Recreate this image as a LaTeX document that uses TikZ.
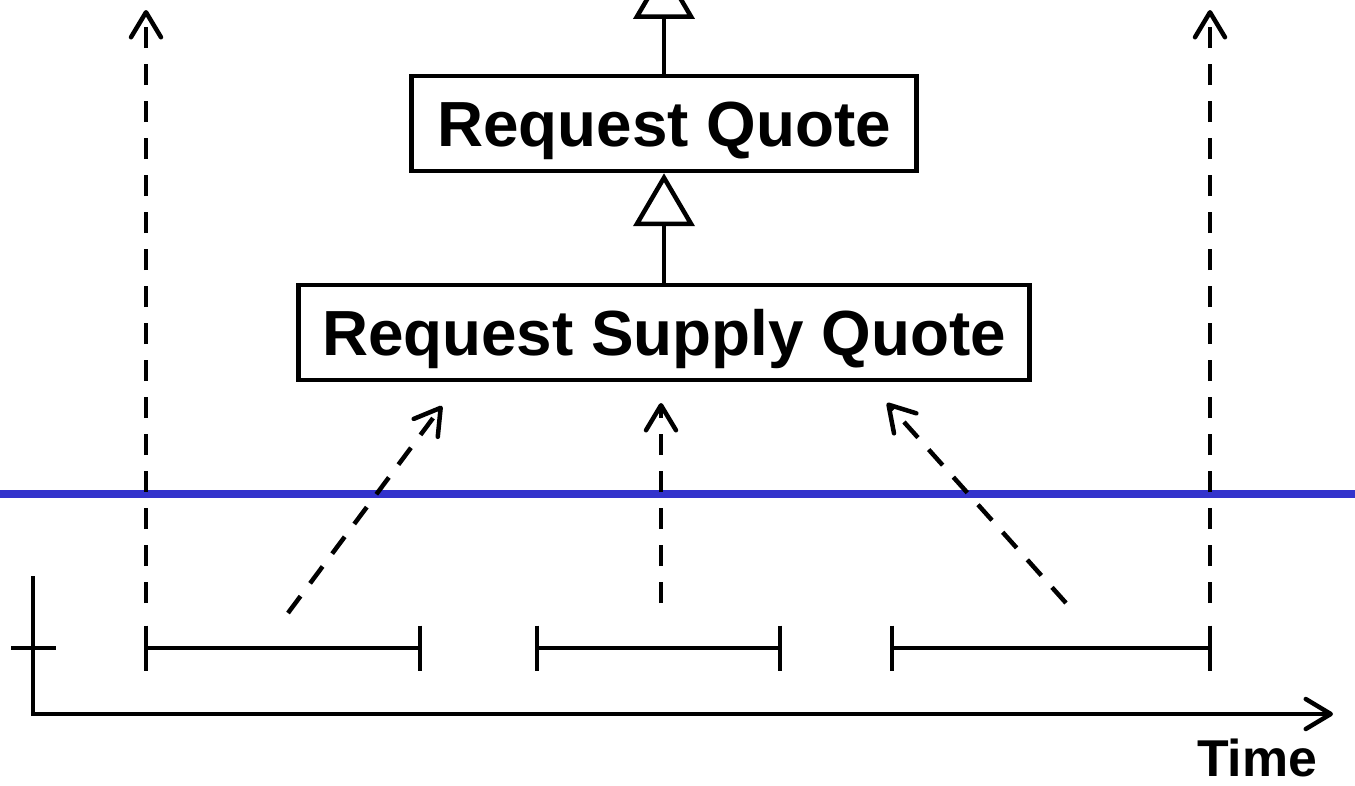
\documentclass[tikz,border=0pt]{standalone}
\usepackage{fontspec}
\setmainfont{Liberation Sans}
\usetikzlibrary{arrows.meta}
\definecolor{sepblue}{RGB}{51,51,204}
\begin{document}
\begin{tikzpicture}[x=0.02cm,y=-0.02cm,
  lw/.style={line width=0.09cm},
  box/.style={draw,lw,inner sep=0pt,font=\bfseries\fontsize{36.3pt}{40pt}\selectfont,
    text height=26pt,text depth=0pt,minimum height=1.9cm},
  gen/.style={lw,-{Triangle[length=1.06cm,width=1.22cm,fill=white,line join=miter]}},
  dasharrow/.style={lw,dash pattern=on 0.42cm off 0.32cm,
    -{Straight Barb[length=0.5cm,width=0.6cm,line cap=round,line join=round]}},
  axisarrow/.style={lw,-{Straight Barb[length=0.5cm,width=0.6cm,line cap=round,line join=round]}},
  timelabel/.style={font=\bfseries\fontsize{29.5pt}{32pt}\selectfont,anchor=base,inner sep=0pt}
]
\useasboundingbox (0,0) rectangle (1355,785);
\clip (0,0) rectangle (1355,785);

% boxes
\node[box,minimum width=10.1cm] (rq) at (664,123.5) {Request Quote};
\node[box,minimum width=14.62cm] (rsq) at (664,332.5) {Request Supply Quote};
\coordinate (top) at (664,-34);

% generalisation connectors
\draw[gen] (rsq.north) -- (rq.south);
\draw[gen] (rq.north) -- (top);

% separator
\coordinate (sepL) at (0,494);
\coordinate (sepR) at (1355,494);
\draw[sepblue,line width=0.16cm] (sepL) -- (sepR);

% axes
\coordinate (yTop) at (33,576);
\coordinate (origin) at (33,714);
\coordinate (xEnd) at (1333,714);
\coordinate (tickL) at (11,648);
\coordinate (tickR) at (56,648);
\draw[axisarrow,line join=miter] (yTop) -- (origin) -- (xEnd);
\draw[lw] (tickL) -- (tickR);
\node[timelabel] (time) at (1257,776) {Time};

% intervals
\coordinate (i1a) at (146,648); \coordinate (i1b) at (420,648);
\coordinate (i2a) at (537,648); \coordinate (i2b) at (780,648);
\coordinate (i3a) at (892,648); \coordinate (i3b) at (1210,648);
\foreach \a/\b in {i1a/i1b,i2a/i2b,i3a/i3b}{
  \draw[lw] (\a) -- (\b);
  \draw[lw] ([yshift=0.45cm]\a) -- ([yshift=-0.45cm]\a);
  \draw[lw] ([yshift=0.45cm]\b) -- ([yshift=-0.45cm]\b);
}

% dashed arrows
\coordinate (v1s) at (146,603); \coordinate (v1e) at (146,10);
\coordinate (v2s) at (1210,603); \coordinate (v2e) at (1210,10);
\coordinate (d1s) at (288,613); \coordinate (d1e) at (442,406);
\coordinate (d2s) at (661,603); \coordinate (d2e) at (661,403);
\coordinate (d3s) at (1066,603); \coordinate (d3e) at (887,403);
\draw[dasharrow] (v1s) -- (v1e);
\draw[dasharrow] (v2s) -- (v2e);
\draw[dasharrow] (d1s) -- (d1e);
\draw[dasharrow] (d2s) -- (d2e);
\draw[dasharrow] (d3s) -- (d3e);
\end{tikzpicture}
\end{document}
